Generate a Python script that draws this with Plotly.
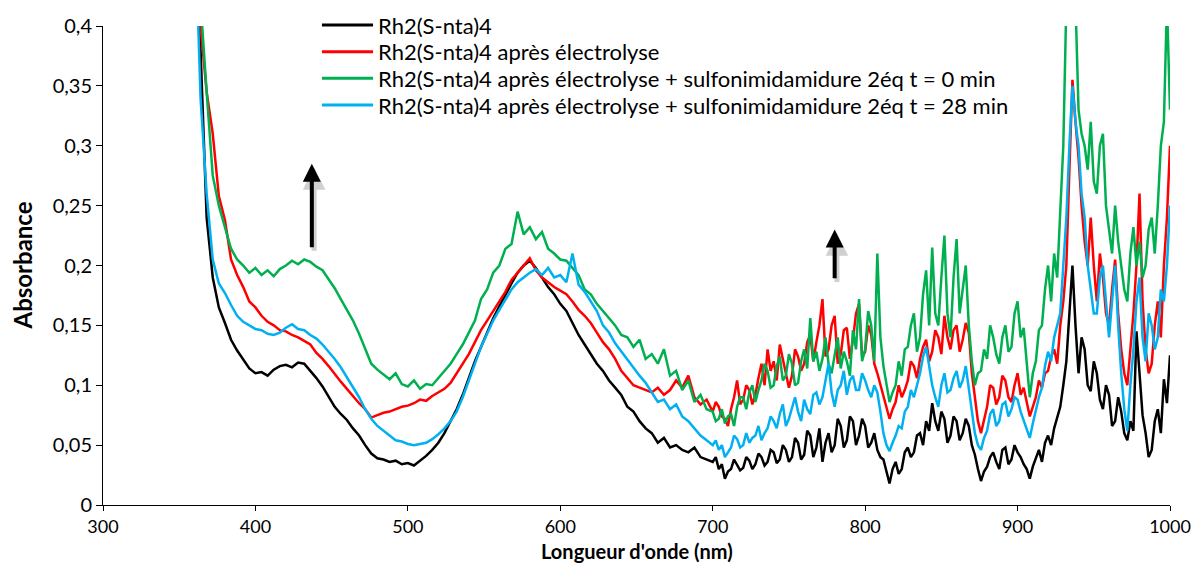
import plotly.graph_objects as go

# Wavelength grid (nm): 4 nm steps in the visible band, 2 nm steps beyond 700 nm
wl_visible = list(range(360, 700, 4))
wl_nir = list(range(700, 1001, 2))
wavelength = wl_visible + wl_nir

# --- Rh2(S-nta)4 ---
rh2_snta4_vis = [
    0.52, 0.38, 0.24, 0.19, 0.165, 0.152, 0.138, 0.129, 0.121, 0.114,
    0.110, 0.111, 0.108, 0.113, 0.116, 0.117, 0.115, 0.119, 0.118, 0.112,
    0.106, 0.099, 0.090, 0.082, 0.076, 0.071, 0.064, 0.058, 0.050, 0.043,
    0.039, 0.038, 0.036, 0.037, 0.034, 0.035, 0.033, 0.037, 0.041, 0.046,
    0.052, 0.060, 0.070, 0.080, 0.092, 0.106, 0.120, 0.132, 0.144, 0.156,
    0.166, 0.176, 0.185, 0.194, 0.200, 0.204, 0.198, 0.190, 0.182, 0.176,
    0.168, 0.162, 0.152, 0.142, 0.134, 0.126, 0.118, 0.112, 0.104, 0.098,
    0.092, 0.082, 0.078, 0.070, 0.064, 0.060, 0.052, 0.056, 0.048, 0.050,
    0.046, 0.044, 0.048, 0.040, 0.038,
]
rh2_snta4_nir = [
    0.036, 0.040, 0.030, 0.034, 0.022, 0.028, 0.030, 0.038, 0.034, 0.029,
    0.031, 0.040, 0.037, 0.030, 0.034, 0.043, 0.040, 0.033, 0.036, 0.046,
    0.044, 0.035, 0.038, 0.050, 0.046, 0.036, 0.040, 0.056, 0.052, 0.038,
    0.042, 0.062, 0.058, 0.040, 0.048, 0.064, 0.036, 0.052, 0.060, 0.044,
    0.050, 0.072, 0.066, 0.048, 0.054, 0.074, 0.070, 0.050, 0.058, 0.072,
    0.066, 0.048, 0.052, 0.060, 0.046, 0.040, 0.038, 0.028, 0.018, 0.030,
    0.036, 0.026, 0.030, 0.044, 0.048, 0.040, 0.044, 0.058, 0.060, 0.050,
    0.070, 0.062, 0.085, 0.070, 0.062, 0.078, 0.072, 0.052, 0.058, 0.074,
    0.070, 0.054, 0.060, 0.072, 0.066, 0.050, 0.042, 0.030, 0.020, 0.028,
    0.032, 0.040, 0.044, 0.036, 0.030, 0.046, 0.048, 0.034, 0.038, 0.050,
    0.044, 0.040, 0.034, 0.030, 0.022, 0.032, 0.040, 0.046, 0.036, 0.052,
    0.058, 0.050, 0.064, 0.072, 0.082, 0.100, 0.120, 0.160, 0.200, 0.150,
    0.110, 0.140, 0.130, 0.100, 0.095, 0.120, 0.110, 0.088, 0.080, 0.100,
    0.092, 0.066, 0.070, 0.090, 0.078, 0.060, 0.054, 0.070, 0.062, 0.145,
    0.110, 0.075, 0.060, 0.040, 0.046, 0.070, 0.080, 0.060, 0.105, 0.085,
    0.125,
]

# --- après électrolyse ---
electrolyse_vis = [
    0.52, 0.40, 0.345, 0.31, 0.258, 0.238, 0.205, 0.192, 0.182, 0.170,
    0.165, 0.158, 0.153, 0.150, 0.146, 0.145, 0.142, 0.140, 0.137, 0.134,
    0.127, 0.122, 0.116, 0.109, 0.103, 0.097, 0.091, 0.085, 0.080, 0.073,
    0.075, 0.077, 0.078, 0.080, 0.082, 0.083, 0.085, 0.088, 0.087, 0.091,
    0.094, 0.097, 0.102, 0.110, 0.118, 0.126, 0.136, 0.146, 0.154, 0.162,
    0.170, 0.178, 0.188, 0.194, 0.200, 0.206, 0.196, 0.190, 0.186, 0.182,
    0.179, 0.176, 0.170, 0.163, 0.158, 0.152, 0.144, 0.136, 0.130, 0.122,
    0.112, 0.106, 0.100, 0.098, 0.096, 0.094, 0.098, 0.092, 0.096, 0.104,
    0.098, 0.108, 0.090, 0.084, 0.088,
]
electrolyse_nir = [
    0.078, 0.086, 0.082, 0.074, 0.072, 0.066, 0.080, 0.090, 0.104, 0.084,
    0.088, 0.100, 0.096, 0.084, 0.092, 0.106, 0.118, 0.100, 0.130, 0.112,
    0.120, 0.104, 0.134, 0.122, 0.110, 0.098, 0.108, 0.130, 0.124, 0.112,
    0.118, 0.136, 0.142, 0.120, 0.136, 0.150, 0.172, 0.124, 0.130, 0.150,
    0.158, 0.118, 0.126, 0.146, 0.148, 0.122, 0.138, 0.160, 0.168, 0.124,
    0.128, 0.150, 0.142, 0.118, 0.110, 0.100, 0.092, 0.080, 0.072, 0.080,
    0.086, 0.100, 0.090, 0.096, 0.104, 0.120, 0.116, 0.106, 0.122, 0.132,
    0.138, 0.120, 0.128, 0.146, 0.140, 0.126, 0.158, 0.140, 0.130, 0.146,
    0.150, 0.128, 0.138, 0.152, 0.144, 0.110, 0.090, 0.070, 0.060, 0.072,
    0.082, 0.100, 0.098, 0.084, 0.090, 0.108, 0.104, 0.090, 0.086, 0.100,
    0.110, 0.092, 0.098, 0.086, 0.074, 0.082, 0.090, 0.104, 0.098, 0.110,
    0.112, 0.124, 0.130, 0.118, 0.150, 0.170, 0.200, 0.280, 0.355, 0.320,
    0.290, 0.250, 0.220, 0.200, 0.240, 0.200, 0.170, 0.210, 0.190, 0.160,
    0.150, 0.180, 0.205, 0.160, 0.130, 0.110, 0.100, 0.130, 0.160, 0.200,
    0.260, 0.170, 0.130, 0.110, 0.118, 0.150, 0.170, 0.140, 0.200, 0.240,
    0.300,
]

# --- + sulfonimidamidure 2 éq, t = 0 min ---
sulfo_t0_vis = [
    0.52, 0.42, 0.345, 0.275, 0.250, 0.232, 0.214, 0.205, 0.200, 0.194,
    0.198, 0.192, 0.196, 0.191, 0.197, 0.200, 0.204, 0.201, 0.205, 0.203,
    0.199, 0.196, 0.189, 0.181, 0.172, 0.163, 0.154, 0.143, 0.130, 0.118,
    0.113, 0.109, 0.105, 0.110, 0.101, 0.099, 0.104, 0.097, 0.101, 0.100,
    0.106, 0.112, 0.118, 0.126, 0.134, 0.144, 0.154, 0.172, 0.180, 0.194,
    0.200, 0.214, 0.218, 0.245, 0.226, 0.232, 0.222, 0.228, 0.214, 0.210,
    0.205, 0.204, 0.198, 0.192, 0.180, 0.176, 0.168, 0.162, 0.156, 0.150,
    0.142, 0.140, 0.132, 0.138, 0.122, 0.126, 0.118, 0.130, 0.108, 0.112,
    0.096, 0.104, 0.086, 0.092, 0.080,
]
sulfo_t0_nir = [
    0.078, 0.070, 0.072, 0.080, 0.068, 0.074, 0.076, 0.066, 0.082, 0.090,
    0.090, 0.080, 0.094, 0.100, 0.086, 0.096, 0.104, 0.118, 0.112, 0.098,
    0.100, 0.116, 0.124, 0.104, 0.108, 0.126, 0.118, 0.100, 0.102, 0.120,
    0.130, 0.114, 0.156, 0.120, 0.128, 0.112, 0.122, 0.140, 0.118, 0.110,
    0.126, 0.140, 0.114, 0.128, 0.120, 0.108, 0.146, 0.130, 0.172, 0.120,
    0.130, 0.162, 0.150, 0.120, 0.210, 0.140, 0.116, 0.100, 0.086, 0.094,
    0.100, 0.120, 0.108, 0.130, 0.132, 0.150, 0.160, 0.128, 0.140, 0.176,
    0.196, 0.150, 0.215, 0.160, 0.150, 0.190, 0.225, 0.160, 0.140, 0.190,
    0.222, 0.160, 0.180, 0.200, 0.150, 0.120, 0.100, 0.110, 0.112, 0.130,
    0.122, 0.150, 0.140, 0.126, 0.118, 0.140, 0.150, 0.128, 0.132, 0.160,
    0.170, 0.140, 0.148, 0.120, 0.090, 0.110, 0.120, 0.146, 0.150, 0.180,
    0.200, 0.170, 0.210, 0.190, 0.240, 0.300, 0.420, 0.420, 0.420, 0.420,
    0.330, 0.310, 0.300, 0.280, 0.320, 0.270, 0.260, 0.300, 0.310, 0.250,
    0.230, 0.210, 0.250, 0.220, 0.200, 0.180, 0.170, 0.210, 0.232, 0.200,
    0.220, 0.190, 0.200, 0.230, 0.240, 0.210, 0.250, 0.300, 0.320, 0.420,
    0.330,
]

# --- + sulfonimidamidure 2 éq, t = 28 min ---
sulfo_t28_vis = [
    0.50, 0.34, 0.26, 0.205, 0.185, 0.177, 0.167, 0.158, 0.153, 0.150,
    0.147, 0.146, 0.143, 0.142, 0.144, 0.148, 0.151, 0.147, 0.146, 0.142,
    0.139, 0.134, 0.128, 0.122, 0.115, 0.107, 0.098, 0.090, 0.080, 0.072,
    0.066, 0.062, 0.058, 0.054, 0.053, 0.051, 0.050, 0.051, 0.052, 0.055,
    0.059, 0.064, 0.070, 0.078, 0.090, 0.104, 0.118, 0.132, 0.143, 0.154,
    0.163, 0.172, 0.180, 0.186, 0.190, 0.194, 0.197, 0.192, 0.198, 0.190,
    0.192, 0.186, 0.210, 0.184, 0.178, 0.170, 0.162, 0.150, 0.144, 0.135,
    0.128, 0.122, 0.114, 0.108, 0.102, 0.094, 0.086, 0.088, 0.080, 0.084,
    0.074, 0.070, 0.064, 0.058, 0.054,
]
sulfo_t28_nir = [
    0.050, 0.054, 0.046, 0.050, 0.040, 0.044, 0.048, 0.058, 0.055, 0.048,
    0.050, 0.060, 0.052, 0.056, 0.058, 0.066, 0.054, 0.060, 0.064, 0.074,
    0.070, 0.064, 0.076, 0.084, 0.066, 0.072, 0.082, 0.090, 0.078, 0.070,
    0.088, 0.080, 0.076, 0.092, 0.094, 0.084, 0.090, 0.104, 0.118, 0.094,
    0.082, 0.096, 0.100, 0.112, 0.092, 0.104, 0.108, 0.096, 0.096, 0.110,
    0.104, 0.096, 0.090, 0.100, 0.094, 0.078, 0.060, 0.050, 0.045, 0.052,
    0.058, 0.066, 0.064, 0.078, 0.082, 0.096, 0.090, 0.100, 0.110, 0.124,
    0.132, 0.116, 0.100, 0.090, 0.082, 0.100, 0.110, 0.094, 0.096, 0.106,
    0.112, 0.098, 0.104, 0.116, 0.098, 0.080, 0.060, 0.050, 0.046, 0.056,
    0.062, 0.076, 0.080, 0.066, 0.070, 0.084, 0.086, 0.074, 0.080, 0.090,
    0.088, 0.078, 0.070, 0.062, 0.056, 0.068, 0.080, 0.090, 0.098, 0.116,
    0.128, 0.120, 0.140, 0.150, 0.160, 0.200, 0.240, 0.300, 0.350, 0.320,
    0.300, 0.260, 0.240, 0.200, 0.180, 0.160, 0.160, 0.190, 0.200, 0.170,
    0.140, 0.170, 0.200, 0.150, 0.110, 0.080, 0.062, 0.100, 0.130, 0.170,
    0.190, 0.140, 0.120, 0.160, 0.150, 0.130, 0.140, 0.180, 0.170, 0.200,
    0.250,
]

series_names = [
    "Rh2(S-nta)4",
    "Rh2(S-nta)4 après électrolyse",
    "Rh2(S-nta)4 après électrolyse + sulfonimidamidure 2éq t = 0 min",
    "Rh2(S-nta)4 après électrolyse + sulfonimidamidure 2éq t = 28 min",
]
series_colors = ["#000000", "#FF0000", "#00B050", "#00B0F0"]
series_values = [
    rh2_snta4_vis + rh2_snta4_nir,
    electrolyse_vis + electrolyse_nir,
    sulfo_t0_vis + sulfo_t0_nir,
    sulfo_t28_vis + sulfo_t28_nir,
]
for vals in series_values:
    if len(vals) != len(wavelength):
        raise ValueError("series length does not match wavelength grid")

x_ticks = [300, 400, 500, 600, 700, 800, 900, 1000]
y_ticks = [0, 0.05, 0.1, 0.15, 0.2, 0.25, 0.3, 0.35, 0.4]
y_tick_text = ["0", "0,05", "0,1", "0,15", "0,2", "0,25", "0,3", "0,35", "0,4"]

fig = go.Figure()
for name, color, values in zip(series_names, series_colors, series_values):
    fig.add_trace(go.Scatter(
        x=wavelength, y=values, mode="lines", name=name,
        line=dict(color=color, width=2.5), showlegend=False,
    ))

# Legend block drawn as short line samples with text labels (paper coordinates)
legend_rows_y = [1.002, 0.946, 0.891, 0.835]
for name, color, ly in zip(series_names, series_colors, legend_rows_y):
    fig.add_shape(type="line", xref="paper", yref="paper",
                  x0=0.2052, x1=0.2531, y0=ly, y1=ly,
                  line=dict(color=color, width=3))
    fig.add_annotation(text=name, xref="paper", yref="paper", x=0.2562, y=ly,
                       xanchor="left", yanchor="middle", showarrow=False,
                       font=dict(family="Lato", size=22, color="#000000"))

# Arrows marking the rising bands (soft shadow first, then arrow)
arrows = [(437, 0.214, 0.285), (780, 0.188, 0.230)]
for ax_x, y_tail, y_head in arrows:
    fig.add_annotation(
        x=ax_x + 1.5, y=y_head - 0.003, ax=ax_x + 1.5, ay=y_tail - 0.003,
        xref="x", yref="y", axref="x", ayref="y",
        showarrow=True, arrowhead=2, arrowsize=0.9, arrowwidth=5,
        arrowcolor="rgba(0,0,0,0.18)", text="",
    )
    fig.add_annotation(
        x=ax_x, y=y_head, ax=ax_x, ay=y_tail,
        xref="x", yref="y", axref="x", ayref="y",
        showarrow=True, arrowhead=2, arrowsize=0.9, arrowwidth=4,
        arrowcolor="#000000", text="",
    )

fig.add_annotation(
    text="<b>Longueur d'onde (nm)</b>", xref="paper", yref="paper",
    x=0.5, y=-0.096, yanchor="middle", showarrow=False,
    font=dict(family="Lato", size=20, color="#000000"),
)
fig.add_annotation(
    text="<b>Absorbance</b>", xref="paper", yref="paper",
    x=-0.0759, y=0.5, xanchor="center", yanchor="middle", textangle=-90,
    showarrow=False, font=dict(family="Lato", size=24, color="#000000"),
)

fig.update_layout(
    width=1197, height=564,
    margin=dict(l=103, r=27, t=26, b=59, autoexpand=False),
    paper_bgcolor="white", plot_bgcolor="white",
    showlegend=False,
    xaxis=dict(
        range=[300, 1000], tickvals=x_ticks, ticktext=[str(v) for v in x_ticks],
        showgrid=False, zeroline=False, showline=True, linecolor="#000000",
        linewidth=1, ticks="outside", ticklen=5, tickcolor="#000000",
        ticklabelstandoff=0,
        tickfont=dict(family="Liberation Sans Narrow, Lato", size=18, color="#000000"),
    ),
    yaxis=dict(
        range=[0, 0.4], tickvals=y_ticks, ticktext=y_tick_text,
        showgrid=False, zeroline=False, showline=True, linecolor="#000000",
        linewidth=1, ticks="outside", ticklen=6, tickcolor="#000000",
        tickfont=dict(family="Lato", size=20, color="#000000"),
    ),
)

fig.write_html("out.html")
